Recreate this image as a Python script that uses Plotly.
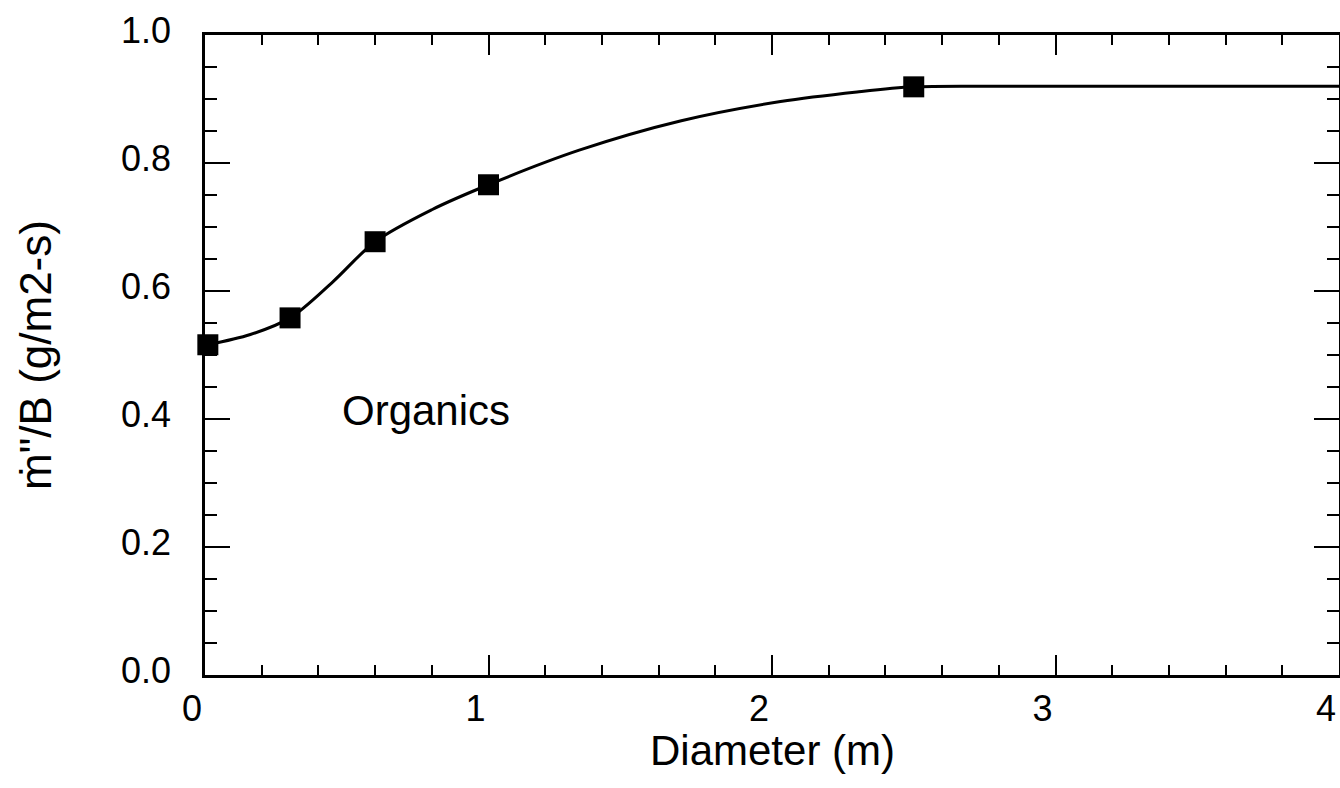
import plotly.graph_objects as go

# Measured burning rates (organics)
diameter_m = [0.01, 0.30, 0.60, 1.00, 2.50]
rate_norm = [0.516, 0.558, 0.677, 0.766, 0.919]

# Smooth fitted curve through the measurements
fit_x = [0.01, 0.16, 0.30, 0.45, 0.60, 0.80, 1.00, 1.32, 1.68, 2.03, 2.30, 2.50, 2.80, 3.30, 4.00]
fit_y = [0.516, 0.532, 0.558, 0.614, 0.677, 0.727, 0.766, 0.820, 0.866, 0.896, 0.911, 0.919, 0.920, 0.920, 0.920]

x_ticks = [0, 1, 2, 3, 4]
x_ticklabels = ["0", "1", "2", "3", "4"]
y_ticks = [0.0, 0.2, 0.4, 0.6, 0.8, 1.0]
y_ticklabels = ["0.0", "0.2", "0.4", "0.6", "0.8", "1.0"]

FONT = "Liberation Sans, Arial, Helvetica, sans-serif"

fig = go.Figure()
fig.add_trace(go.Scatter(
    x=fit_x, y=fit_y, mode="lines",
    line=dict(color="black", width=3, shape="spline", smoothing=0.9),
    hoverinfo="skip", showlegend=False,
))
fig.add_trace(go.Scatter(
    x=diameter_m, y=rate_norm, mode="markers",
    marker=dict(symbol="square", size=21, color="black"),
    showlegend=False, cliponaxis=False,
))

fig.add_annotation(
    x=0.476, y=0.414, xref="x", yref="y", text="Organics",
    showarrow=False, xanchor="left", yanchor="middle",
    font=dict(family=FONT, size=42, color="black"),
)

# x-axis title placed just below the tick labels
fig.add_annotation(
    x=0.5, y=-0.118, xref="paper", yref="paper", text="Diameter (m)",
    showarrow=False, xanchor="center", yanchor="middle",
    font=dict(family=FONT, size=42, color="black"),
)

axis_common = dict(
    showline=True, linecolor="black", linewidth=2.5, mirror="ticks",
    ticks="inside", tickcolor="black", tickwidth=2,
    showgrid=False, zeroline=False, automargin=False,
    tickfont=dict(family=FONT, size=36, color="black"),
)

fig.update_xaxes(
    range=[0, 4], tickvals=x_ticks, ticktext=x_ticklabels,
    ticklen=20, ticklabelshift=-13, ticklabelstandoff=0,
    minor=dict(dtick=0.2, ticks="inside", ticklen=10, tickwidth=2, tickcolor="black"),
    **axis_common,
)
fig.update_yaxes(
    range=[0, 1.0], tickvals=y_ticks, ticktext=y_ticklabels,
    ticklen=25, ticklabelshift=-5, ticklabelstandoff=24,
    minor=dict(dtick=0.05, ticks="inside", ticklen=12, tickwidth=2, tickcolor="black"),
    title=dict(text="ṁ\"/B (g/m2-s)", font=dict(family=FONT, size=44, color="black"), standoff=56),
    **axis_common,
)

fig.update_layout(
    width=1340, height=788,
    margin=dict(l=205, r=1, t=35, b=113),
    paper_bgcolor="white", plot_bgcolor="white",
    template="none",
)

fig.write_html("out.html")
